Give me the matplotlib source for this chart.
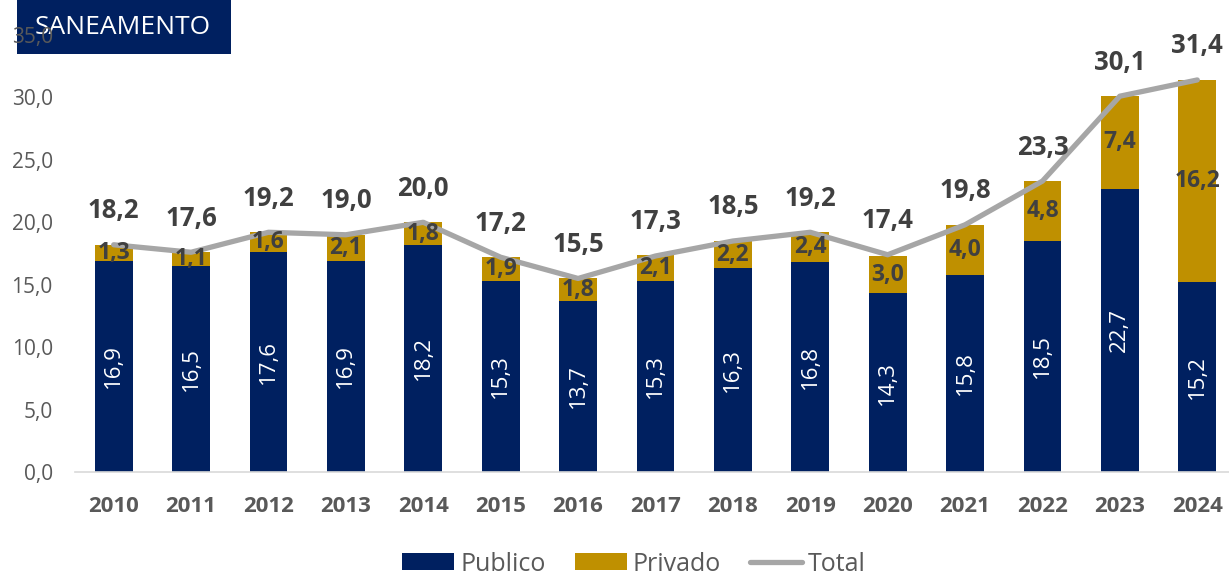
import matplotlib.pyplot as plt
import numpy as np
from matplotlib.patches import Rectangle, Patch
from matplotlib.lines import Line2D

plt.rcParams['font.family'] = ['Open Sans', 'DejaVu Sans']

# data
anos = ['2010', '2011', '2012', '2013', '2014', '2015', '2016', '2017',
        '2018', '2019', '2020', '2021', '2022', '2023', '2024']
publico = [16.9, 16.5, 17.6, 16.9, 18.2, 15.3, 13.7, 15.3, 16.3, 16.8, 14.3, 15.8, 18.5, 22.7, 15.2]
privado = [1.3, 1.1, 1.6, 2.1, 1.8, 1.9, 1.8, 2.1, 2.2, 2.4, 3.0, 4.0, 4.8, 7.4, 16.2]
total = [18.2, 17.6, 19.2, 19.0, 20.0, 17.2, 15.5, 17.3, 18.5, 19.2, 17.4, 19.8, 23.3, 30.1, 31.4]

navy = '#002060'
gold = '#BF9000'
gray_line = '#A6A6A6'
dark = '#404040'
tick_gray = '#595959'

def fmt(v):
    return f'{v:.1f}'.replace('.', ',')

fig = plt.figure(figsize=(12.29, 5.78), dpi=100)
ax = fig.add_axes([75 / 1229, 106 / 578, 1 - 75 / 1229, 437 / 578])
ax.patch.set_alpha(0)

x = np.arange(len(anos))
w = 0.49
ax.bar(x, publico, w, color=navy, zorder=2)
ax.bar(x, privado, w, bottom=publico, color=gold, zorder=2)
ax.plot(x, total, color=gray_line, lw=3.8, zorder=3, solid_capstyle='round')

for i in range(len(anos)):
    ax.text(x[i], publico[i] / 2, fmt(publico[i]), rotation=90, ha='center', va='center',
            color='white', fontsize=16, zorder=4)
    ax.text(x[i], publico[i] + privado[i] / 2, fmt(privado[i]), ha='center', va='center',
            color=dark, fontsize=16.5, fontweight='bold', zorder=4)
    ax.annotate(fmt(total[i]), (x[i], total[i]), xytext=(0, 24.5), textcoords='offset points',
                ha='center', va='center', color=dark, fontsize=18.5, fontweight='bold', zorder=4)

ax.set_xlim(-0.5, 14.41)
ax.set_ylim(0, 35)
ax.set_yticks(np.arange(0, 36, 5))
ax.set_yticklabels([fmt(v) for v in np.arange(0, 36, 5)], color=tick_gray, fontsize=15)
ax.set_xticks(x)
ax.set_xticklabels(anos, fontsize=16, fontweight='bold', color=tick_gray)
ax.tick_params(axis='y', length=0, pad=16)
ax.tick_params(axis='x', length=0, pad=17)
for s in ['top', 'right', 'left']:
    ax.spines[s].set_visible(False)
ax.spines['bottom'].set_color('#D9D9D9')
ax.spines['bottom'].set_linewidth(1.2)

# title box
fig.patches.append(Rectangle((17 / 1229, 1 - 54 / 578), 214 / 1229, 54 / 578,
                             transform=fig.transFigure, facecolor=navy, edgecolor='none', zorder=-1))
fig.text(123 / 1229, 1 - 27 / 578, 'SANEAMENTO', color='white', fontsize=19,
         ha='center', va='center', zorder=-1)

handles = [Patch(facecolor=navy), Patch(facecolor=gold),
           Line2D([0], [0], color=gray_line, lw=3.8, solid_capstyle='round')]
fig.legend(handles, ['Publico', 'Privado', 'Total'], loc='center', bbox_to_anchor=(0.516, 0.024),
           ncol=3, frameon=False, fontsize=18, labelcolor=tick_gray, handlelength=2.08,
           handleheight=0.68, handletextpad=0.25, columnspacing=1.15, borderpad=0)

plt.savefig('out.png', dpi=100)
